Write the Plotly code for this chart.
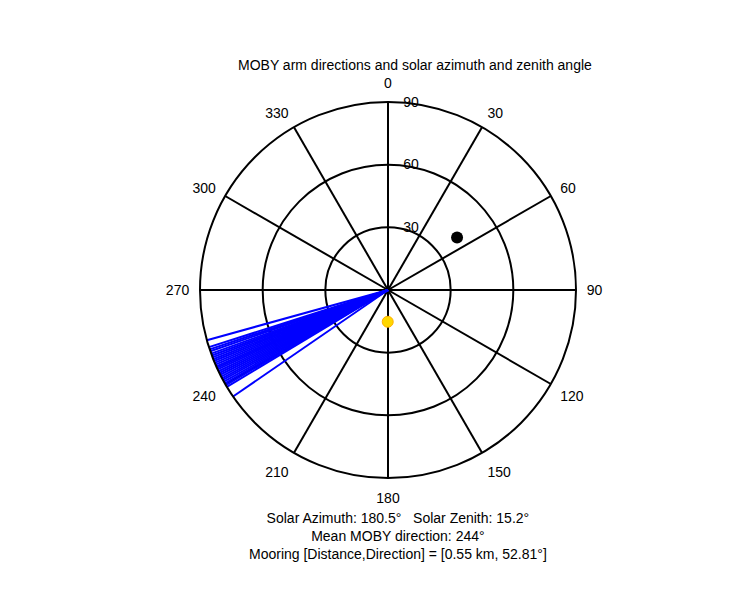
import plotly.graph_objects as go

# MOBY arm directions (deg)
arm_dirs = [254.5, 252.3, 251.6, 251.0, 250.2, 249.6, 249.0, 248.4, 247.8, 247.2,
            246.6, 246.0, 245.5, 245.0, 244.4, 243.8, 243.2, 242.6, 242.0, 241.4,
            240.8, 240.2, 239.6, 239.0, 235.5]
arm_len = 90
sun_az, sun_zen = 180.5, 15.2
mooring_dir, mooring_r = 52.81, 41.5
ang_ticks = list(range(0, 360, 30))
rad_ticks = [30, 60, 90]

# the page has an 8px body margin, so positions below are shifted by 8px
off = 8

fig = go.Figure()
for d in arm_dirs:
    fig.add_trace(go.Scatterpolar(r=[0, arm_len], theta=[d, d], mode="lines",
                                  line=dict(color="#0000ff", width=2), showlegend=False))
fig.add_trace(go.Scatterpolar(r=[mooring_r], theta=[mooring_dir], mode="markers",
                              marker=dict(color="black", size=12), showlegend=False))
fig.add_trace(go.Scatterpolar(r=[sun_zen], theta=[sun_az], mode="markers",
                              marker=dict(color="#ffd700", size=11, line=dict(color="#ffb000", width=1)),
                              showlegend=False))

fig.update_layout(
    width=750, height=600, margin=dict(l=0, r=0, t=0, b=0),
    paper_bgcolor="white", showlegend=False,
    font=dict(family="Liberation Sans, Arial", size=14, color="black"),
    polar=dict(
        domain=dict(x=[(200 - off)/750, (576 - off)/750], y=[(122 + off)/600, (498 + off)/600]),
        bgcolor="white",
        angularaxis=dict(rotation=90, direction="clockwise", tickvals=ang_ticks,
                         ticktext=[str(t) for t in ang_ticks], showline=True,
                         linecolor="black", linewidth=2, gridcolor="black", gridwidth=2,
                         ticks="outside", ticklen=7, tickcolor="rgba(0,0,0,0)",
                         tickfont=dict(size=14)),
        radialaxis=dict(range=[0, 90], tickvals=rad_ticks, angle=90, tickangle=90,
                        showline=False, gridcolor="black", gridwidth=2,
                        ticks="outside", ticklen=12, tickcolor="rgba(0,0,0,0)",
                        tickfont=dict(size=14)),
    ),
    annotations=[
        dict(text="MOBY arm directions and solar azimuth and zenith angle", x=(415 - off)/750,
             y=1-(55 - off)/600, xref="paper", yref="paper", showarrow=False, font=dict(size=14)),
        dict(text="Solar Azimuth: 180.5°   Solar Zenith: 15.2°<br>Mean MOBY direction: 244°<br>"
                  "Mooring [Distance,Direction] = [0.55 km, 52.81°]",
             x=(398 - off)/750, y=1-(508 - off)/600, xref="paper", yref="paper", yanchor="top",
             showarrow=False, font=dict(size=14)),
    ],
)
fig.write_html("out.html")
